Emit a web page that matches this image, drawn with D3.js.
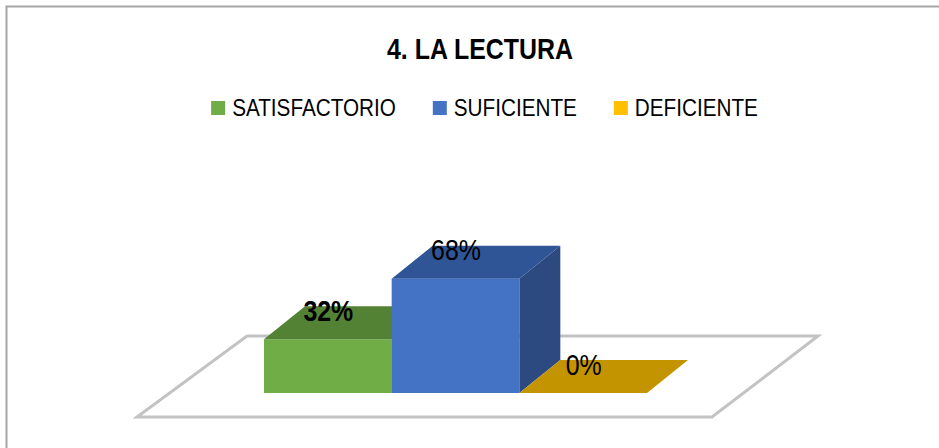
<!DOCTYPE html>
<html>
<head>
<meta charset="utf-8">
<title>4. LA LECTURA</title>
<script src="https://d3js.org/d3.v7.min.js"></script>
<style>
  body { margin: 0; background: #ffffff; }
  text { font-family: "Liberation Sans", Arial, sans-serif; }
</style>
</head>
<body>
<svg width="939" height="448" id="mainsvg"></svg>
<script>
// datos
const categories = ['SATISFACTORIO', 'SUFICIENTE', 'DEFICIENTE'];
const values = [0.32, 0.68, 0.00];
const labels = ['32%', '68%', '0%'];
const boldLabel = [true, false, false];
const title = '4. LA LECTURA';

const frontColor = ['#70ad47', '#4472c4', '#ffc000'];
const topColor = ['#548235', '#2f5597', '#c49300'];
const sideColor = ['#3f6328', '#2c4a80', '#8f6c00'];

const svg = d3.select('#mainsvg');
const width = +svg.attr('width');
const height = +svg.attr('height');
const narrow = 0.86; // la fuente original es mas estrecha (Calibri)

svg.append('rect').attr('width', width).attr('height', height).attr('fill', '#fff');
// marco (solo se ven arriba e izquierda)
svg.append('rect')
  .attr('x', 6.5).attr('y', 6.5)
  .attr('width', width + 10).attr('height', height + 10)
  .attr('fill', 'none').attr('stroke', '#a6a6a6').attr('stroke-width', 2);

// escalas
const x = d3.scaleBand().domain(categories).range([264, 647]).padding(0);
const y = d3.scaleLinear().domain([0, 1]).range([393, 225]);
const dx = 41, dy = -33;   // profundidad de las barras

// piso
const x0 = x.range()[0], x1 = x.range()[1], yb = y(0);
const floor = [
  [x0 - 127, yb + 24],
  [x1 + 65, yb + 24],
  [x1 + 171, yb - 57],
  [x0 - 17, yb - 57]
];
svg.append('polygon')
  .attr('points', floor.map(p => p.join(',')).join(' '))
  .attr('fill', '#ffffff')
  .attr('stroke', '#c3c3c3')
  .attr('stroke-width', 3)
  .attr('stroke-linejoin', 'miter');

// barras 3D
const g = svg.append('g');
categories.forEach((c, i) => {
  const bx = x(c), bw = x.bandwidth();
  const top = y(values[i]);
  const bar = g.append('g');
  if (values[i] > 0) {
    bar.append('polygon') // lado derecho
      .attr('points', [[bx + bw, top], [bx + bw + dx, top + dy], [bx + bw + dx, yb + dy], [bx + bw, yb]].map(p => p.join(',')).join(' '))
      .attr('fill', sideColor[i]);
    bar.append('rect') // frente
      .attr('x', bx).attr('y', top)
      .attr('width', bw).attr('height', yb - top)
      .attr('fill', frontColor[i]);
  }
  bar.append('polygon') // cara superior
    .attr('points', [[bx, top], [bx + bw, top], [bx + bw + dx, top + dy], [bx + dx, top + dy]].map(p => p.join(',')).join(' '))
    .attr('fill', topColor[i]);
});

// etiquetas
categories.forEach((c, i) => {
  const cx = x(c) + x.bandwidth() / 2 + dx / 2 - 20;
  const cy = y(values[i]) + dy / 2 - 2;
  svg.append('text')
    .attr('transform', `translate(${cx},${cy}) scale(${narrow},1)`)
    .attr('text-anchor', 'middle')
    .attr('font-size', 29)
    .attr('font-weight', boldLabel[i] ? 'bold' : 'normal')
    .attr('fill', '#000')
    .text(labels[i]);
});

// titulo
svg.append('text')
  .attr('transform', `translate(480,59) scale(${narrow},1)`)
  .attr('text-anchor', 'middle')
  .attr('font-size', 29)
  .attr('font-weight', 'bold')
  .attr('fill', '#000')
  .text(title);

// leyenda
const legend = svg.append('g');
const sq = 14, gap = 7, spacing = 37;
let lx = 0;
categories.forEach((c, i) => {
  const item = legend.append('g').attr('transform', `translate(${lx},0)`);
  item.append('rect').attr('x', 0).attr('y', -15).attr('width', sq).attr('height', sq).attr('fill', frontColor[i]);
  const t = item.append('text')
    .attr('transform', `translate(${sq + gap},0) scale(0.9,1)`)
    .attr('font-size', 23)
    .attr('fill', '#000')
    .text(c);
  lx += sq + gap + t.node().getComputedTextLength() * 0.9 + spacing;
});
const totalW = lx - spacing;
legend.attr('transform', `translate(${484.5 - totalW / 2},116)`);
</script>
</body>
</html>
